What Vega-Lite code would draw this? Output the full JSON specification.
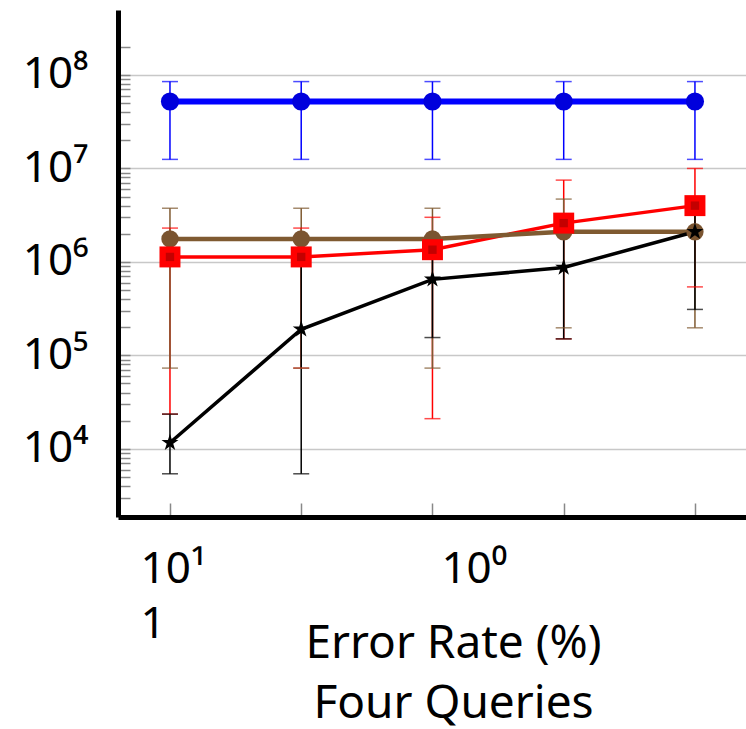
{
  "$schema": "https://vega.github.io/schema/vega-lite/v6.json",
  "width": 628,
  "height": 507,
  "autosize": "none",
  "padding": {"left": 118, "top": 10, "right": 0, "bottom": 212},
  "config": {"font": "Noto Sans", "view": {"stroke": null}},
  "data": {
    "values": [
      {"series": "S1", "idx": 0, "val": 52000000, "lo": 12500000, "hi": 85000000},
      {"series": "S1", "idx": 1, "val": 52000000, "lo": 12500000, "hi": 85000000},
      {"series": "S1", "idx": 2, "val": 52000000, "lo": 12500000, "hi": 85000000},
      {"series": "S1", "idx": 3, "val": 52000000, "lo": 12500000, "hi": 85000000},
      {"series": "S1", "idx": 4, "val": 52000000, "lo": 12500000, "hi": 85000000},
      {"series": "S2", "idx": 0, "val": 1130000, "lo": 23500, "hi": 2300000},
      {"series": "S2", "idx": 1, "val": 1130000, "lo": 73000, "hi": 2300000},
      {"series": "S2", "idx": 2, "val": 1350000, "lo": 21000, "hi": 3000000},
      {"series": "S2", "idx": 3, "val": 2600000, "lo": 150000, "hi": 7500000},
      {"series": "S2", "idx": 4, "val": 4000000, "lo": 540000, "hi": 10000000},
      {"series": "S3", "idx": 0, "val": 1760000, "lo": 73000, "hi": 3750000},
      {"series": "S3", "idx": 1, "val": 1760000, "lo": 73000, "hi": 3750000},
      {"series": "S3", "idx": 2, "val": 1760000, "lo": 73000, "hi": 3750000},
      {"series": "S3", "idx": 3, "val": 2100000, "lo": 197000, "hi": 4700000},
      {"series": "S3", "idx": 4, "val": 2100000, "lo": 197000, "hi": 3500000},
      {"series": "S4", "idx": 0, "val": 11600, "lo": 5400, "hi": 23500},
      {"series": "S4", "idx": 1, "val": 190000, "lo": 5400, "hi": 1100000},
      {"series": "S4", "idx": 2, "val": 650000, "lo": 155000, "hi": 1350000},
      {"series": "S4", "idx": 3, "val": 870000, "lo": 150000, "hi": 2100000},
      {"series": "S4", "idx": 4, "val": 2100000, "lo": 310000, "hi": 4000000}
    ]
  },
  "encoding": {
    "x": {
      "field": "idx",
      "type": "quantitative",
      "scale": {"domain": [-0.396, 4.389], "nice": false, "zero": false},
      "axis": {
        "orient": "bottom",
        "values": [0, 1, 2, 2.293, 3, 4],
        "labelExpr": "datum.value == 0 ? ['10¹', '1'] : (datum.value > 2.2 && datum.value < 2.4 ? '10⁰' : '')",
        "labelAlign": "left",
        "labelOffset": -30,
        "labelBaseline": "alphabetic",
        "labelPadding": 79,
        "labelLineHeight": 55,
        "labelFontSize": 44,
        "labelColor": "black",
        "labelFlush": false,
        "labelOverlap": false,
        "tickOpacity": {"condition": {"test": "datum.value > 2.2 && datum.value < 2.4", "value": 0}, "value": 1},
        "tickSize": -14,
        "tickColor": "#888888",
        "tickWidth": 1.5,
        "domainColor": "black",
        "domainWidth": 5,
        "grid": false,
        "title": ["Error Rate (%)", "Four Queries"],
        "titleFontSize": 46,
        "titleFontWeight": "normal",
        "titleColor": "black",
        "titleLineHeight": 60,
        "titleX": 335,
        "titleY": 140,
        "titleAlign": "center",
        "titleBaseline": "alphabetic"
      }
    },
    "color": {
      "field": "series",
      "type": "nominal",
      "scale": {"domain": ["S1", "S2", "S3", "S4"], "range": ["#0000ff", "#ff0000", "#7f5a31", "#000000"]},
      "legend": null
    }
  },
  "layer": [
    {
      "mark": {"type": "rule", "strokeWidth": 1.5},
      "encoding": {
        "y": {
          "field": "lo",
          "type": "quantitative",
          "title": null,
          "scale": {"type": "log", "domain": [1862, 496000000], "nice": false},
          "axis": {
            "orient": "left",
            "values": [3000, 4000, 5000, 6000, 7000, 8000, 9000, 10000, 20000, 30000, 40000, 50000, 60000, 70000, 80000, 90000, 100000, 200000, 300000, 400000, 500000, 600000, 700000, 800000, 900000, 1000000, 2000000, 3000000, 4000000, 5000000, 6000000, 7000000, 8000000, 9000000, 10000000, 20000000, 30000000, 40000000, 50000000, 60000000, 70000000, 80000000, 90000000, 100000000, 200000000],
            "labelExpr": "abs(log(datum.value)/LN10 - round(log(datum.value)/LN10)) < 0.001 ? '10' + substring('⁰¹²³⁴⁵⁶⁷⁸⁹', round(log(datum.value)/LN10), round(log(datum.value)/LN10) + 1) : ''",
            "labelFontSize": 44,
            "labelColor": "black",
            "labelPadding": 42,
            "labelOverlap": false,
            "labelFlush": false,
            "grid": true,
            "gridColor": "#c8c8c8",
            "gridWidth": 1.5,
            "gridOpacity": {"condition": {"test": "abs(log(datum.value)/LN10 - round(log(datum.value)/LN10)) < 0.001", "value": 1}, "value": 0},
            "tickSize": -12,
            "tickColor": "#888888",
            "tickWidth": 1.5,
            "domainColor": "black",
            "domainWidth": 5,
            "title": null
          }
        },
        "y2": {"field": "hi"}
      }
    },
    {
      "mark": {"type": "tick", "orient": "horizontal", "size": 16, "thickness": 1.5},
      "encoding": {"y": {"field": "lo", "type": "quantitative", "title": null}}
    },
    {
      "mark": {"type": "tick", "orient": "horizontal", "size": 16, "thickness": 1.5},
      "encoding": {"y": {"field": "hi", "type": "quantitative", "title": null}}
    },
    {
      "transform": [{"filter": "datum.series == 'S1'"}],
      "mark": {"type": "line", "strokeWidth": 6},
      "encoding": {"y": {"field": "val", "type": "quantitative", "title": null}}
    },
    {
      "transform": [{"filter": "datum.series == 'S2'"}],
      "mark": {"type": "line", "strokeWidth": 3.5},
      "encoding": {"y": {"field": "val", "type": "quantitative", "title": null}}
    },
    {
      "transform": [{"filter": "datum.series == 'S3'"}],
      "mark": {"type": "line", "strokeWidth": 4.5},
      "encoding": {"y": {"field": "val", "type": "quantitative", "title": null}}
    },
    {
      "transform": [{"filter": "datum.series == 'S4'"}],
      "mark": {"type": "line", "strokeWidth": 3.5},
      "encoding": {"y": {"field": "val", "type": "quantitative", "title": null}}
    },
    {
      "transform": [{"filter": "datum.series == 'S1'"}],
      "mark": {"type": "circle", "opacity": 1, "size": 330},
      "encoding": {"y": {"field": "val", "type": "quantitative", "title": null}, "color": {"value": "#0000dc"}}
    },
    {
      "transform": [{"filter": "datum.series == 'S3'"}],
      "mark": {"type": "circle", "opacity": 1, "size": 300},
      "encoding": {"y": {"field": "val", "type": "quantitative", "title": null}, "color": {"value": "#7a5430"}}
    },
    {
      "transform": [{"filter": "datum.series == 'S2'"}],
      "mark": {"type": "square", "opacity": 1, "size": 440},
      "encoding": {"y": {"field": "val", "type": "quantitative", "title": null}, "color": {"value": "#ff0000"}}
    },
    {
      "transform": [{"filter": "datum.series == 'S2'"}],
      "mark": {"type": "square", "opacity": 1, "size": 70},
      "encoding": {"y": {"field": "val", "type": "quantitative", "title": null}, "color": {"value": "#c40000"}}
    },
    {
      "transform": [{"filter": "datum.series == 'S4'"}],
      "mark": {"type": "point", "filled": true, "opacity": 1, "size": 320, "shape": "M0,-1L0.2245,-0.309L0.951,-0.309L0.363,0.118L0.588,0.809L0,0.382L-0.588,0.809L-0.363,0.118L-0.951,-0.309L-0.2245,-0.309Z"},
      "encoding": {"y": {"field": "val", "type": "quantitative", "title": null}, "color": {"value": "#000000"}}
    }
  ]
}
